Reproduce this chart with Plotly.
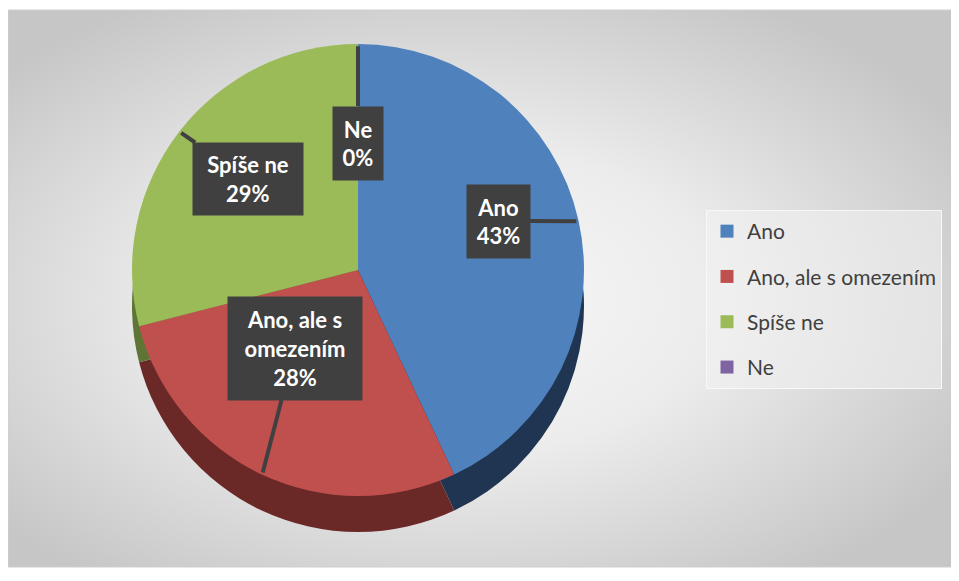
import base64
import math
import plotly.graph_objects as go

# ---- data ----
labels = ["Ano", "Ano, ale s omezením", "Spíše ne", "Ne"]
callout_labels = ["Ano", "Ano, ale s<br>omezením", "Spíše ne", "Ne"]
values = [43, 28, 29, 0]
top_colors = ["#4F81BD", "#C0504D", "#9BBB59", "#8064A2"]
side_colors = ["#1F3552", "#6A2826", "#5E7535", "#4B3B60"]

W, H = 959, 581
FONT = "Lato"

# pie geometry (pixels, figure coordinates)
cx, cy, R = 350, 262, 226
depth = 36

def dom(cxp, cyp, r):
    return dict(x=[(cxp - r) / W, (cxp + r) / W], y=[1 - (cyp + r) / H, 1 - (cyp - r) / H])

fig = go.Figure()

# side (depth) of the pie
fig.add_trace(go.Pie(labels=labels, values=values, sort=False, direction="clockwise",
                     rotation=0, marker=dict(colors=side_colors, line=dict(width=0)),
                     textinfo="none", hoverinfo="skip", showlegend=False,
                     domain=dom(cx, cy + depth, R)))
# top of the pie
fig.add_trace(go.Pie(labels=labels, values=values, sort=False, direction="clockwise",
                     rotation=0, marker=dict(colors=top_colors, line=dict(width=0)),
                     textinfo="none", showlegend=False,
                     domain=dom(cx, cy, R)))

# legend entries
for lab, col in zip(labels, top_colors):
    fig.add_trace(go.Scatter(x=[None], y=[None], mode="markers", name=lab, legendgroup=lab,
                             marker=dict(symbol="square", size=13, color=col),
                             showlegend=True, hoverinfo="skip"))

# callouts
total = sum(values)
box_centers = [(490, 213), (287, 340), (240, 171), (350, 135)]
box_sizes = [(63, 73), (134, 103), (110, 72), (50, 73)]
annotations = []
start = 0.0
for lab, v, (bx, by), (bw, bh) in zip(callout_labels, values, box_centers, box_sizes):
    frac = v / total
    mid = (start + frac / 2) * 2 * math.pi
    start += frac
    tx = cx + R * 0.99 * math.sin(mid)
    ty = cy - R * 0.99 * math.cos(mid)
    pct = round(frac * 100)
    annotations.append(dict(
        x=tx / W, y=1 - ty / H, xref="paper", yref="paper",
        ax=bx - tx, ay=by - ty, axref="pixel", ayref="pixel",
        text=f"<b>{lab}<br>{pct}%</b>", showarrow=True, arrowhead=0,
        arrowwidth=4, arrowcolor="#404040",
        bgcolor="#404040", borderpad=4, width=bw - 8, height=bh - 8,
        font=dict(family=FONT, size=22, color="white"), align="center", valign="middle"))

# background gradient (extends past the right edge of the window, as in the reference)
gx0, gy0, gx1, gy1 = 0, 2, 959, 559
svg = (f'<svg xmlns="http://www.w3.org/2000/svg" width="{gx1-gx0}" height="{gy1-gy0}">'
       '<defs><radialGradient id="g" cx="46%" cy="52%" r="62%">'
       '<stop offset="0" stop-color="#f8f8f8"/><stop offset="0.45" stop-color="#ececec"/>'
       '<stop offset="1" stop-color="#c6c6c6"/></radialGradient></defs>'
       f'<rect width="{gx1-gx0}" height="{gy1-gy0}" fill="url(#g)"/></svg>')
src = "data:image/svg+xml;base64," + base64.b64encode(svg.encode()).decode()

fig.update_layout(
    width=W, height=H,
    margin=dict(l=0, r=0, t=0, b=0),
    paper_bgcolor="white", plot_bgcolor="rgba(0,0,0,0)",
    xaxis=dict(visible=False, range=[0, 1]), yaxis=dict(visible=False, range=[0, 1]),
    images=[dict(source=src, xref="paper", yref="paper", x=gx0 / W, y=1 - gy0 / H,
                 sizex=(gx1 - gx0) / W, sizey=(gy1 - gy0) / H, sizing="stretch",
                 xanchor="left", yanchor="top", layer="below")],
    shapes=[dict(type="rect", xref="paper", yref="paper", x0=gx0 / W, x1=1.02,
                 y0=1 - gy1 / H, y1=1 - gy0 / H, line=dict(color="#cfcfcf", width=1))],
    legend=dict(x=698 / W, y=1 - 202 / H, xanchor="left", yanchor="top",
                font=dict(family=FONT, size=21, color="#404040"),
                bgcolor="rgba(242,242,242,0.55)", bordercolor="rgba(250,250,250,0.9)",
                borderwidth=1, tracegroupgap=15, itemsizing="trace"),
    annotations=annotations,
    showlegend=True,
)

fig.write_html("out.html")
